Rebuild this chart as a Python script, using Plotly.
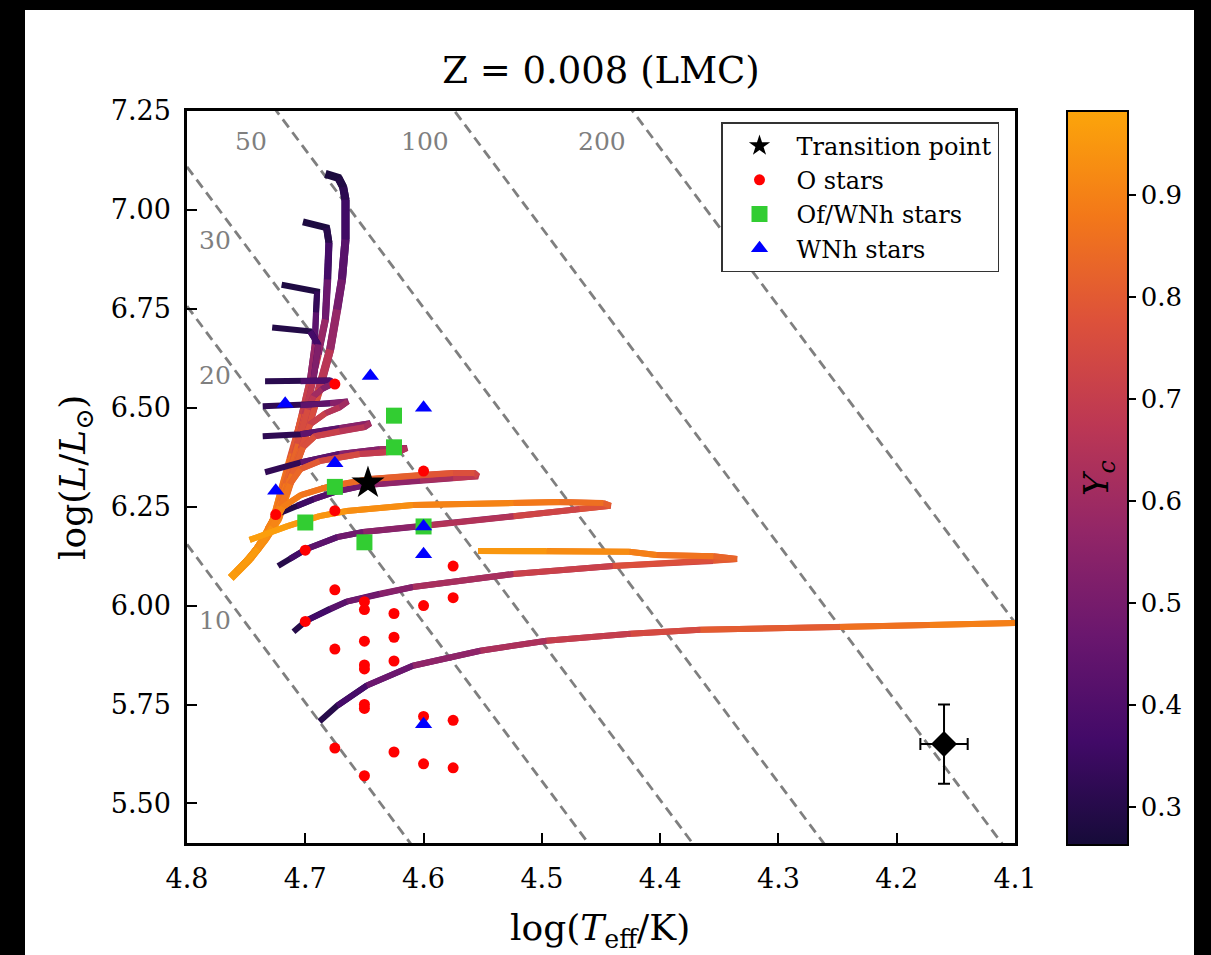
import numpy as np
import plotly.graph_objects as go
from plotly.colors import sample_colorscale

FONT = "DejaVu Serif, Liberation Serif, serif"

# ---------------- data ----------------
title_text = "Z = 0.008 (LMC)"
x_ticks = [4.8, 4.7, 4.6, 4.5, 4.4, 4.3, 4.2, 4.1]
y_ticks = [5.50, 5.75, 6.00, 6.25, 6.50, 6.75, 7.00, 7.25]
cb_ticks = [0.3, 0.4, 0.5, 0.6, 0.7, 0.8, 0.9]
yc_min, yc_max = 0.263, 0.982

iso_radii = [10, 20, 30, 50, 100, 200]
iso_label_text = ["50", "100", "200", "30", "20", "10"]
iso_label_logT = [4.746, 4.599, 4.449, 4.776, 4.776, 4.776]
iso_label_logL = [7.174, 7.174, 7.174, 6.922, 6.582, 5.962]
log_Tsun = np.log10(5772.0)

# evolutionary tracks (logTeff, logL, Yc)
t1_logT = [4.683, 4.672, 4.668, 4.666, 4.666, 4.669, 4.673, 4.679, 4.688, 4.698, 4.707, 4.716, 4.723, 4.734, 4.747, 4.763]
t1_logL = [7.091, 7.081, 7.058, 7.026, 6.925, 6.824, 6.748, 6.647, 6.547, 6.446, 6.370, 6.282, 6.219, 6.168, 6.118, 6.070]
t1_Yc = [0.27, 0.28, 0.30, 0.33, 0.39, 0.46, 0.53, 0.62, 0.72, 0.80, 0.85, 0.88, 0.91, 0.93, 0.95, 0.97]

t2_logT = [4.702, 4.682, 4.680, 4.681, 4.683, 4.689, 4.696, 4.704, 4.713, 4.721, 4.728, 4.740, 4.758]
t2_logL = [6.970, 6.955, 6.917, 6.824, 6.723, 6.635, 6.547, 6.458, 6.370, 6.282, 6.206, 6.143, 6.085]
t2_Yc = [0.27, 0.29, 0.32, 0.42, 0.53, 0.63, 0.72, 0.79, 0.85, 0.88, 0.91, 0.94, 0.96]

t3_logT = [4.720, 4.690, 4.691, 4.692, 4.696, 4.703, 4.711, 4.719, 4.728, 4.738, 4.755]
t3_logL = [6.811, 6.794, 6.741, 6.660, 6.572, 6.483, 6.383, 6.289, 6.214, 6.156, 6.095]
t3_Yc = [0.27, 0.30, 0.36, 0.50, 0.66, 0.76, 0.83, 0.88, 0.91, 0.94, 0.96]

t4_logT = [4.728, 4.696, 4.689, 4.693, 4.700, 4.709, 4.718, 4.726, 4.737, 4.750]
t4_logL = [6.703, 6.693, 6.660, 6.572, 6.483, 6.383, 6.289, 6.219, 6.161, 6.110]
t4_Yc = [0.27, 0.32, 0.42, 0.62, 0.74, 0.82, 0.87, 0.90, 0.93, 0.95]

t5_logT = [4.734, 4.704, 4.679, 4.676, 4.686, 4.693, 4.698, 4.706, 4.716, 4.724, 4.734, 4.745]
t5_logL = [6.567, 6.567, 6.569, 6.562, 6.547, 6.529, 6.496, 6.408, 6.307, 6.231, 6.176, 6.128]
t5_Yc = [0.27, 0.35, 0.45, 0.50, 0.57, 0.64, 0.71, 0.80, 0.86, 0.90, 0.93, 0.95]

t6_logT = [4.736, 4.704, 4.679, 4.664, 4.671, 4.683, 4.696, 4.704, 4.713, 4.721, 4.732, 4.742]
t6_logL = [6.504, 6.506, 6.511, 6.516, 6.501, 6.486, 6.458, 6.395, 6.320, 6.249, 6.188, 6.140]
t6_Yc = [0.27, 0.38, 0.50, 0.58, 0.63, 0.68, 0.74, 0.80, 0.85, 0.89, 0.92, 0.94]

t7_logT = [4.736, 4.704, 4.671, 4.645, 4.650, 4.671, 4.692, 4.702, 4.711, 4.720, 4.730]
t7_logL = [6.428, 6.433, 6.448, 6.461, 6.451, 6.441, 6.428, 6.400, 6.332, 6.262, 6.199]
t7_Yc = [0.27, 0.37, 0.50, 0.60, 0.64, 0.69, 0.74, 0.79, 0.84, 0.88, 0.92]

t8_logT = [4.734, 4.704, 4.671, 4.637, 4.614, 4.620, 4.654, 4.688, 4.704, 4.713, 4.721, 4.732]
t8_logL = [6.337, 6.362, 6.383, 6.395, 6.398, 6.390, 6.383, 6.365, 6.345, 6.307, 6.249, 6.193]
t8_Yc = [0.27, 0.38, 0.50, 0.58, 0.63, 0.67, 0.72, 0.78, 0.82, 0.85, 0.89, 0.92]

t9_logT = [4.724, 4.707, 4.693, 4.673, 4.648, 4.603, 4.575, 4.554, 4.557, 4.575, 4.603, 4.645, 4.679, 4.704, 4.719, 4.728, 4.740, 4.757]
t9_logL = [6.231, 6.252, 6.269, 6.289, 6.305, 6.317, 6.322, 6.327, 6.335, 6.335, 6.330, 6.320, 6.302, 6.279, 6.249, 6.199, 6.143, 6.088]
t9_Yc = [0.27, 0.33, 0.38, 0.45, 0.52, 0.60, 0.65, 0.70, 0.76, 0.78, 0.80, 0.83, 0.86, 0.88, 0.90, 0.92, 0.95, 0.97]

t10_logT = [4.723, 4.713, 4.699, 4.673, 4.651, 4.600, 4.524, 4.468, 4.442, 4.448, 4.485, 4.524, 4.609, 4.665, 4.688, 4.715, 4.747]
t10_logL = [6.100, 6.118, 6.143, 6.173, 6.186, 6.201, 6.226, 6.244, 6.252, 6.259, 6.262, 6.259, 6.254, 6.239, 6.226, 6.201, 6.166]
t10_Yc = [0.27, 0.33, 0.40, 0.46, 0.50, 0.60, 0.70, 0.76, 0.79, 0.84, 0.87, 0.89, 0.92, 0.94, 0.95, 0.96, 0.97]

t11_logT = [4.710, 4.699, 4.679, 4.665, 4.637, 4.609, 4.524, 4.440, 4.355, 4.335, 4.355, 4.403, 4.426, 4.496, 4.554]
t11_logL = [5.934, 5.962, 5.992, 6.010, 6.030, 6.047, 6.080, 6.100, 6.113, 6.118, 6.125, 6.128, 6.136, 6.138, 6.138]
t11_Yc = [0.27, 0.33, 0.40, 0.45, 0.51, 0.57, 0.68, 0.75, 0.79, 0.81, 0.85, 0.88, 0.91, 0.94, 0.96]

t12_logT = [4.688, 4.673, 4.648, 4.609, 4.552, 4.496, 4.425, 4.366, 4.248, 4.172, 4.098]
t12_logL = [5.707, 5.747, 5.798, 5.848, 5.886, 5.911, 5.929, 5.939, 5.946, 5.951, 5.956]
t12_Yc = [0.27, 0.33, 0.42, 0.52, 0.60, 0.67, 0.73, 0.77, 0.84, 0.88, 0.91]

tracks = [
    (t1_logT, t1_logL, t1_Yc), (t2_logT, t2_logL, t2_Yc), (t3_logT, t3_logL, t3_Yc),
    (t4_logT, t4_logL, t4_Yc), (t5_logT, t5_logL, t5_Yc), (t6_logT, t6_logL, t6_Yc),
    (t7_logT, t7_logL, t7_Yc), (t8_logT, t8_logL, t8_Yc), (t9_logT, t9_logL, t9_Yc),
    (t10_logT, t10_logL, t10_Yc), (t11_logT, t11_logL, t11_Yc), (t12_logT, t12_logL, t12_Yc),
]
track_widths = [8, 7, 6, 6, 6, 6, 6, 6, 6, 6, 6, 6]

# observed stars
o_logT = [4.675, 4.725, 4.60, 4.675, 4.70, 4.575, 4.675, 4.65, 4.65, 4.60, 4.575, 4.625, 4.70, 4.675,
          4.65, 4.625, 4.65, 4.65, 4.625, 4.65, 4.65, 4.60, 4.575, 4.675, 4.625, 4.60, 4.575, 4.65]
o_logL = [6.56, 6.23, 6.34, 6.24, 6.14, 6.10, 6.04, 6.01, 5.99, 6.00, 6.02, 5.98, 5.96, 5.89,
          5.91, 5.92, 5.85, 5.84, 5.86, 5.75, 5.74, 5.72, 5.71, 5.64, 5.63, 5.60, 5.59, 5.57]

ofwnh_logT = [4.625, 4.625, 4.675, 4.70, 4.60, 4.65]
ofwnh_logL = [6.48, 6.40, 6.30, 6.21, 6.20, 6.16]

wnh_logT = [4.645, 4.717, 4.60, 4.675, 4.725, 4.60, 4.60, 4.60]
wnh_logL = [6.58, 6.51, 6.50, 6.36, 6.29, 6.20, 6.13, 5.70]

transition_logT = [4.647]
transition_logL = [6.31]

err_logT = [4.16]
err_logL = [5.65]
err_dT = [0.02]
err_dL = [0.10]

# ---------------- styling ----------------
colorscale_hex = ['#160b39', '#420a68', '#6a176e', '#932667', '#bc3754', '#dd513a', '#f37819', '#fca50a']
colorscale = [[i / (len(colorscale_hex) - 1), c] for i, c in enumerate(colorscale_hex)]

W, H = 1211, 955
L_M, R_M, T_M, B_M = 187, 196, 111, 112
PW, PH = W - L_M - R_M, H - T_M - B_M


def px_to_paper_x(px):
    return (px - L_M) / PW


def py_to_paper_y(py):
    return (H - B_M - py) / PH


def yc_color(yc):
    frac = min(max((yc - yc_min) / (yc_max - yc_min), 0), 1)
    return sample_colorscale(colorscale, [frac])[0]


fig = go.Figure()

# iso-radius lines
x_ends = [4.8, 4.1]
for R in iso_radii:
    yy = [2 * np.log10(R) + 4 * (t - log_Tsun) for t in x_ends]
    fig.add_trace(go.Scatter(x=x_ends, y=yy, mode="lines",
                             line=dict(color="#7f7f7f", width=2.8, dash="10px,6px"),
                             showlegend=False, hoverinfo="skip"))

# evolutionary tracks, coloured segment by segment (each piece overlaps the next joint)
for (tT, tL, tY), lw in zip(tracks, track_widths):
    n = len(tT)
    for i in range(n - 1):
        j = min(i + 3, n)
        yc = 0.5 * (tY[i] + tY[i + 1])
        fig.add_trace(go.Scatter(x=tT[i:j], y=tL[i:j], mode="lines",
                                 line=dict(color=yc_color(yc), width=lw),
                                 showlegend=False, hoverinfo="skip"))

# colorbar carrier
fig.add_trace(go.Scatter(
    x=err_logT, y=err_logL, mode="markers",
    marker=dict(size=0, color=[0.6], colorscale=colorscale, cmin=yc_min, cmax=yc_max,
                showscale=True,
                colorbar=dict(thickness=61, thicknessmode="pixels", len=734, lenmode="pixels",
                              x=px_to_paper_x(1067), xref="paper", xanchor="left", xpad=0,
                              y=py_to_paper_y(478), yref="paper", yanchor="middle", ypad=0,
                              outlinewidth=2, outlinecolor="black",
                              ticks="outside", ticklen=7, tickwidth=2, tickcolor="black",
                              tickvals=cb_ticks, ticktext=[f"{v:.1f}" for v in cb_ticks],
                              tickfont=dict(family=FONT, size=26, color="black"))),
    showlegend=False, hoverinfo="skip"))

fig.add_trace(go.Scatter(x=o_logT, y=o_logL, mode="markers", name="O stars",
                         marker=dict(symbol="circle", size=11, color="#ff0000", line=dict(width=0)),
                         legendrank=2))
fig.add_trace(go.Scatter(x=ofwnh_logT, y=ofwnh_logL, mode="markers", name="Of/WNh stars",
                         marker=dict(symbol="square", size=16, color="#32cd32", line=dict(width=0)),
                         legendrank=3))
fig.add_trace(go.Scatter(x=wnh_logT, y=wnh_logL, mode="markers", name="WNh stars",
                         marker=dict(symbol="triangle-up", size=15, color="#0000ff", line=dict(width=0)),
                         legendrank=4))
fig.add_trace(go.Scatter(x=transition_logT, y=transition_logL, mode="markers", name="Transition point",
                         marker=dict(symbol="star", size=25, color="black", line=dict(width=0)),
                         legendrank=1))

# representative error bar
fig.add_trace(go.Scatter(x=err_logT, y=err_logL, mode="markers",
                         marker=dict(symbol="diamond", size=20, color="black"),
                         error_x=dict(type="data", array=err_dT, color="black", thickness=2, width=6),
                         error_y=dict(type="data", array=err_dL, color="black", thickness=2, width=6),
                         showlegend=False, hoverinfo="skip"))

annotations = []
for txt, lt, ll in zip(iso_label_text, iso_label_logT, iso_label_logL):
    annotations.append(dict(x=lt, y=ll, xref="x", yref="y", text=txt, showarrow=False,
                            font=dict(family=FONT, size=25, color="#7f7f7f"),
                            xanchor="center", yanchor="middle"))
annotations.append(dict(x=px_to_paper_x(600), y=py_to_paper_y(930), xref="paper", yref="paper",
                        text="log(<i>T</i><sub>eff</sub>/K)", showarrow=False,
                        font=dict(family=FONT, size=36, color="black"),
                        xanchor="center", yanchor="middle"))
annotations.append(dict(x=px_to_paper_x(75), y=py_to_paper_y(478), xref="paper", yref="paper",
                        text="log(<i>L</i>/<i>L</i><sub>⊙</sub>)", showarrow=False, textangle=-90,
                        font=dict(family=FONT, size=36, color="black"),
                        xanchor="center", yanchor="middle"))
annotations.append(dict(x=px_to_paper_x(1098), y=py_to_paper_y(478), xref="paper", yref="paper",
                        text="<i>Y<sub>c</sub></i>", showarrow=False, textangle=-90,
                        font=dict(family=FONT, size=34, color="black"),
                        xanchor="center", yanchor="middle"))

shapes = [dict(type="rect", xref="paper", yref="paper", layer="below",
               x0=px_to_paper_x(25), x1=px_to_paper_x(1194),
               y0=py_to_paper_y(1000), y1=py_to_paper_y(10),
               fillcolor="white", line=dict(width=0))]

axis_common = dict(showgrid=False, zeroline=False, showline=True, linecolor="black", linewidth=2.5,
                   mirror=True, ticks="inside", ticklen=10, tickwidth=2, tickcolor="black",
                   tickfont=dict(family=FONT, size=27, color="black"))

fig.update_layout(
    width=W, height=H,
    margin=dict(l=L_M, r=R_M, t=T_M, b=B_M, autoexpand=False),
    paper_bgcolor="black", plot_bgcolor="white",
    title=dict(text=title_text, x=px_to_paper_x(601), xref="paper", xanchor="center",
               y=1 - 70 / H, yref="container", yanchor="middle",
               font=dict(family=FONT, size=37, color="black")),
    xaxis=dict(range=[4.8, 4.1], tickvals=x_ticks, ticktext=[f"{v:.1f}" for v in x_ticks],
               ticklabelstandoff=10, **axis_common),
    yaxis=dict(range=[5.4, 7.25], tickvals=y_ticks, ticktext=[f"{v:.2f}" for v in y_ticks],
               ticklabelstandoff=8, **axis_common),
    legend=dict(x=px_to_paper_x(721), y=py_to_paper_y(122), xanchor="left", yanchor="top",
                bgcolor="white", bordercolor="#333333", borderwidth=1.5, itemwidth=64,
                font=dict(family=FONT, size=24, color="black")),
    annotations=annotations, shapes=shapes,
    showlegend=True,
)

fig.write_html("out.html")
